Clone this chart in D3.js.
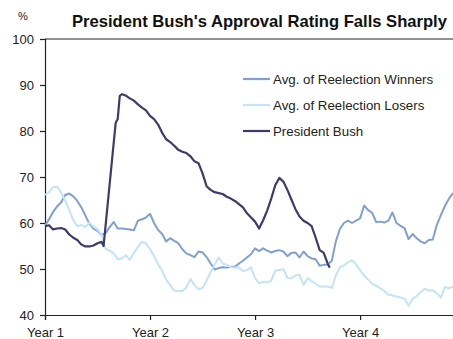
<!DOCTYPE html>
<html>
<head>
<meta charset="utf-8">
<script src="https://cdn.jsdelivr.net/npm/d3@7"></script>
<style>
  html, body { margin: 0; padding: 0; background: #fff; }
  svg { display: block; font-family: "Liberation Sans", Arial, sans-serif; }
</style>
</head>
<body>
<svg id="chart" width="453" height="339"></svg>
<script>
// Weeks since inauguration (two-week steps) for the historical averages
const avgWeeks = d3.range(0, 203, 2);

const winners = [
  59.5, 60.8, 62.4, 63.6, 64.5, 66.1, 66.4, 65.8, 64.8, 63.4,
  61.6, 59.8, 58.8, 58.3, 57.4, 57.8, 59.1, 60.2, 58.8, 58.8,
  58.7, 58.6, 58.4, 60.5, 60.8, 61.2, 62.0, 60.0, 58.5, 57.6,
  56.0, 56.7, 56.1, 55.6, 54.3, 53.4, 53.0, 52.6, 53.8, 53.6,
  52.6, 51.2, 49.9, 50.2, 50.4, 50.3, 50.5, 50.5, 51.2, 51.8,
  52.5, 53.2, 54.5, 53.9, 54.5, 54.0, 53.6, 53.9, 54.1, 53.8,
  52.8, 53.5, 53.6, 52.5, 53.8, 52.8, 52.3, 52.1, 50.7, 50.9,
  51.0, 51.8, 56.0, 58.7, 60.0, 60.5, 60.0, 60.5, 61.0, 63.8,
  62.8, 62.2, 60.2, 60.3, 60.1, 60.5, 62.3, 60.0, 59.4, 58.9,
  56.5, 57.6, 56.7, 56.0, 55.6, 56.3, 56.4, 59.6, 61.7, 63.7,
  65.3, 66.5
];

const losers = [
  66.1, 66.7, 67.8, 67.9, 66.6, 64.9, 62.8, 60.6, 59.3, 59.6,
  59.1, 60.1, 59.2, 58.6, 57.5, 54.4, 54.0, 53.4, 52.1, 52.3,
  53.0, 52.0, 53.5, 54.8, 55.9, 55.6, 54.3, 52.8, 51.0, 49.6,
  47.7, 46.5, 45.3, 45.2, 45.2, 46.0, 47.8, 46.5, 45.6, 45.9,
  47.5, 49.3, 51.0, 52.5, 51.2, 50.9, 50.4, 50.3, 50.3, 49.5,
  49.8, 50.3, 48.0, 46.9, 47.2, 47.1, 47.5, 49.6, 49.8, 50.0,
  48.1, 48.0, 48.6, 48.8, 46.6, 48.0, 47.4, 46.8, 46.2, 46.2,
  46.2, 45.9, 48.6, 50.4, 50.8, 51.5, 51.9, 51.0, 49.7, 48.6,
  47.7, 46.8, 46.4, 45.8, 45.2, 44.4, 44.3, 44.0, 43.8, 43.6,
  42.0, 43.5, 44.1, 45.0, 45.7, 45.3, 45.3, 44.7, 43.8, 46.1,
  45.8, 46.2
];

// President Bush, by week of term
const bushWeeks = [
  0, 2, 4, 6, 8, 10, 12, 14, 16, 18, 20, 22, 24, 26, 28, 29,
  35, 36, 37, 38,
  40, 42, 44, 46, 48, 50, 52, 54, 56, 58, 60, 62, 64, 66, 68, 70,
  72, 74, 76, 78, 80, 82, 84, 86, 88, 90, 92, 94, 96, 98, 100, 102,
  104, 106, 108, 110, 112, 114, 116, 118, 120, 122, 124, 126, 128, 130,
  132, 134, 136, 138, 140, 141
];
const bush = [
  59.3, 59.5, 58.6, 58.8, 58.9, 58.6, 57.5, 56.8, 56.3, 55.3, 54.9, 54.9, 55.1, 55.6, 55.9, 55.0,
  81.8, 82.6, 87.6, 88.0,
  87.7, 87.1, 86.6, 85.8, 85.1, 84.5, 83.3, 82.6, 81.4, 79.6, 78.2, 77.6, 76.8, 75.9, 75.5, 75.2,
  74.5, 73.4, 73.0, 70.8, 68.0, 67.2, 66.7, 66.5, 66.3, 65.7, 65.3, 64.8, 64.1, 63.4, 62.1, 61.2,
  60.3, 58.8, 60.6, 62.7, 65.3, 68.2, 69.8, 69.0, 67.2, 65.1, 63.0, 61.4, 60.5, 60.0,
  59.3, 56.8, 54.1, 53.5, 51.1, 50.3
];

const yearTicks = [0, 52, 104, 156];
const yearLabels = ["Year 1", "Year 2", "Year 3", "Year 4"];
const yTicks = [40, 50, 60, 70, 80, 90, 100];

const seriesNames = ["Avg. of Reelection Winners", "Avg. of Reelection Losers", "President Bush"];
const seriesColors = ["#7fa0d4", "#c2e4f8", "#3e3b6c"];

const svg = d3.select("#chart");

const x = d3.scaleLinear().domain([0, 202]).range([45, 453]);
const y = d3.scaleLinear().domain([40, 100]).range([315, 39]);

// Plot clip so the lines stay inside the frame
svg.append("defs").append("clipPath").attr("id", "plotClip")
  .append("rect").attr("x", 45).attr("y", 30).attr("width", 408).attr("height", 290);

// Top frame line at 100
svg.append("line")
  .attr("x1", x(0)).attr("x2", x(202))
  .attr("y1", y(100)).attr("y2", y(100))
  .attr("stroke", "#222").attr("stroke-width", 1.2);

// Axes
const yAxis = d3.axisLeft(y).tickValues(yTicks).tickSize(5).tickPadding(6).tickFormat(d3.format("d"));
const gy = svg.append("g").attr("transform", `translate(${x(0)},0)`).call(yAxis);

const xAxis = d3.axisBottom(x).tickValues(yearTicks).tickSize(5).tickPadding(8)
  .tickFormat((d, i) => yearLabels[i]);
const gx = svg.append("g").attr("transform", `translate(0,${y(40)})`).call(xAxis);

[gx, gy].forEach(g => {
  g.select(".domain").attr("stroke", "#222").attr("stroke-width", 1.2);
  g.selectAll(".tick line").attr("stroke", "#222").attr("stroke-width", 1.2);
  g.selectAll(".tick text").attr("fill", "#222")
    .style("font-family", "'Liberation Sans', Arial, sans-serif").style("font-size", "13px");
});

// Lines
const line = d3.line()
  .x(d => x(d[0]))
  .y(d => y(d[1]));

const plot = svg.append("g").attr("clip-path", "url(#plotClip)");
const seriesData = [
  d3.zip(avgWeeks, winners),
  d3.zip(avgWeeks, losers),
  d3.zip(bushWeeks, bush)
];
seriesData.forEach((pts, i) => {
  plot.append("path")
    .datum(pts)
    .attr("fill", "none")
    .attr("stroke", seriesColors[i])
    .attr("stroke-width", i === 2 ? 2.2 : 2)
    .attr("stroke-linejoin", "round")
    .attr("d", line);
});

// Legend
const legend = svg.append("g").attr("transform", "translate(243,79)");
seriesNames.forEach((name, i) => {
  const row = legend.append("g").attr("transform", `translate(0,${i * 26})`);
  row.append("line").attr("x1", 0).attr("x2", 27).attr("y1", 0).attr("y2", 0)
    .attr("stroke", seriesColors[i]).attr("stroke-width", 2.2);
  row.append("text").attr("x", 30).attr("y", 0).attr("dy", "0.35em")
    .attr("fill", "#222").style("font-size", "13.3px").text(name);
});

// Title and unit label
svg.append("text")
  .attr("x", 259.5).attr("y", 27)
  .attr("text-anchor", "middle")
  .attr("fill", "#111")
  .style("font-size", "16.6px").style("font-weight", "bold")
  .text("President Bush's Approval Rating Falls Sharply");

svg.append("text")
  .attr("x", 23).attr("y", 20)
  .attr("text-anchor", "middle")
  .attr("fill", "#222")
  .style("font-size", "11px")
  .text("%");
</script>
</body>
</html>
